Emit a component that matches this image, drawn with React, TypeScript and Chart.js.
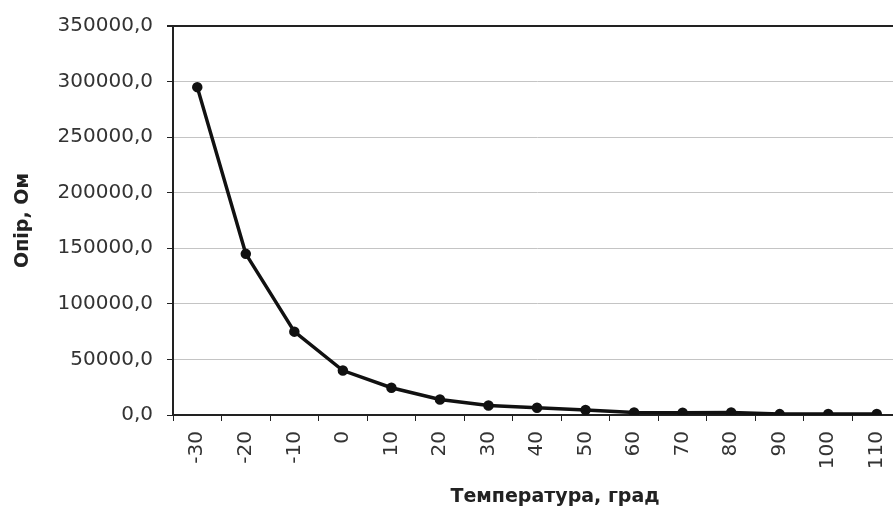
import React, { useEffect, useRef } from "react";
import { Chart, registerables } from "chart.js";

Chart.register(...registerables);

const temperatures = ["-30", "-20", "-10", "0", "10", "20", "30", "40", "50", "60", "70", "80", "90", "100", "110"];
const resistance = [295000, 145000, 75000, 40000, 24500, 14000, 8500, 6500, 4500, 2200, 2100, 2300, 800, 900, 900];
const yTicks = [0, 50000, 100000, 150000, 200000, 250000, 300000, 350000];
const xTitle = "Температура, град";
const yTitle = "Опір, Ом";

const FONT = "'DejaVu Sans', Verdana, sans-serif";

const xTitlePlugin = {
  id: "xTitlePlugin",
  afterDraw(chart: any) {
    const ctx = chart.ctx;
    const area = chart.chartArea;
    ctx.save();
    ctx.font = `bold 19px ${FONT}`;
    ctx.fillStyle = "#222";
    ctx.textAlign = "center";
    ctx.textBaseline = "middle";
    ctx.fillText(xTitle, (area.left + area.right) / 2 + 18, 497);
    ctx.restore();
  },
};

export default function App() {
  const ref = useRef<HTMLCanvasElement>(null);
  useEffect(() => {
    if (!ref.current) return;
    const chart = new Chart(ref.current, {
      type: "line",
      data: {
        labels: temperatures,
        datasets: [
          {
            data: resistance,
            borderColor: "#111",
            backgroundColor: "#111",
            borderWidth: 3.5,
            pointRadius: 3.5,
            pointHoverRadius: 3.5,
            pointBackgroundColor: "#111",
            pointBorderColor: "#111",
            tension: 0,
          },
        ],
      },
      plugins: [xTitlePlugin],
      options: {
        responsive: false,
        animation: false,
        layout: { padding: { left: 0, right: 0, top: 24, bottom: 0 } },
        plugins: { legend: { display: false }, tooltip: { enabled: false } },
        scales: {
          x: {
            type: "category",
            offset: true,
            grid: {
              offset: true,
              drawOnChartArea: false,
              drawTicks: true,
              tickLength: 6,
              tickColor: "#222",
            },
            border: { display: true, color: "#222", width: 2 },
            ticks: {
              autoSkip: false,
              minRotation: 90,
              maxRotation: 90,
              color: "#333",
              padding: 10,
              font: { family: FONT, size: 20 },
            },
            afterFit: (s: any) => {
              s.height = 524 - 24 - 391;
            },
          },
          y: {
            min: 0,
            max: 350000,
            afterBuildTicks: (s: any) => {
              s.ticks = yTicks.map((v) => ({ value: v }));
            },
            grid: {
              color: (c: any) => (c.tick && c.tick.value === 350000 ? "#222" : "#c4c4c4"),
              lineWidth: (c: any) => (c.tick && c.tick.value === 350000 ? 2 : 1),
              tickLength: 6,
              tickColor: "#222",
            },
            border: { display: true, color: "#222", width: 2 },
            ticks: {
              color: "#333",
              padding: 14,
              font: { family: FONT, size: 20 },
              callback: (v: any) => Number(v).toFixed(1).replace(".", ","),
            },
            title: {
              display: true,
              text: yTitle,
              color: "#222",
              font: { family: FONT, size: 19, weight: "bold" },
              padding: { top: 12, bottom: 0 },
            },
            afterFit: (s: any) => {
              s.width = 173;
            },
          },
        },
      },
    });
    return () => chart.destroy();
  }, []);
  return (
    <div
      style={{
        position: "fixed",
        left: 0,
        top: 0,
        width: 893,
        height: 524,
        overflow: "hidden",
        background: "#fff",
      }}
    >
      <canvas ref={ref} width={911} height={524} style={{ display: "block" }} />
    </div>
  );
}
